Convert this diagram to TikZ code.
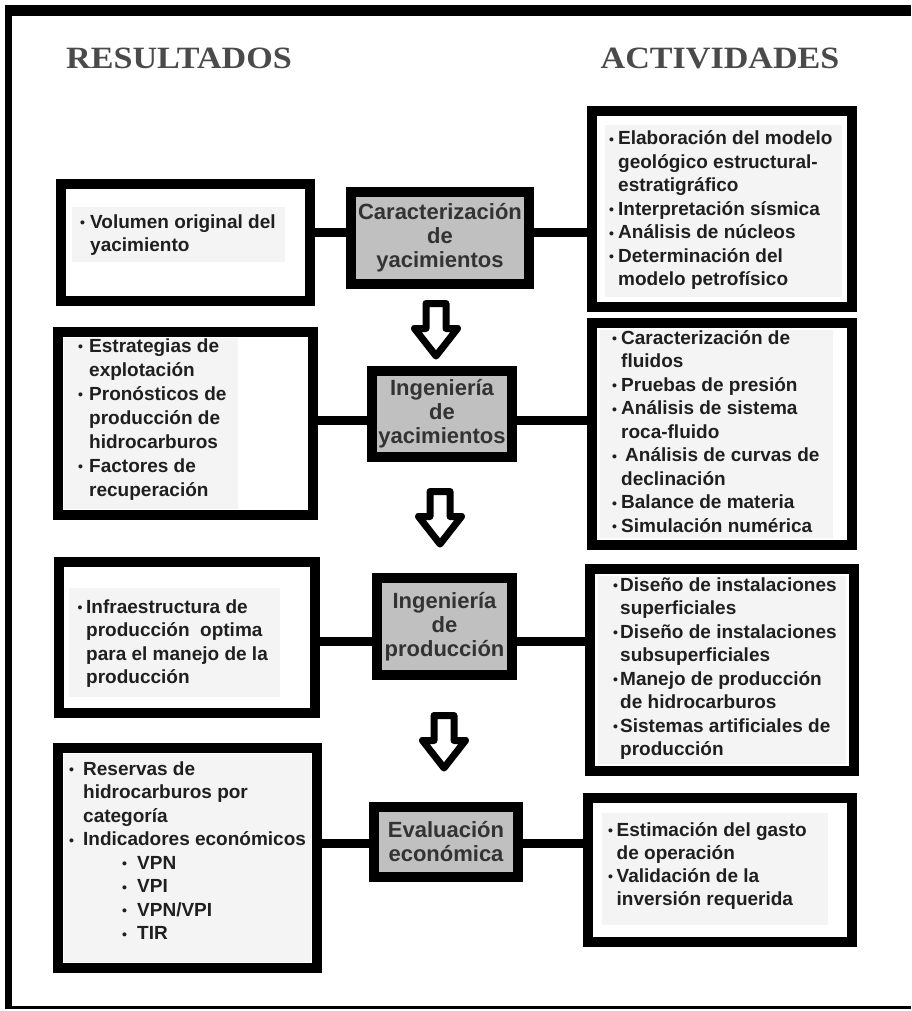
\documentclass[tikz,border=0pt]{standalone}
\usepackage{fontspec}
\setmainfont{Liberation Sans}
\newfontfamily\headfont{Liberation Serif}
\definecolor{cgray}{HTML}{C0C0C0}
\definecolor{tbg}{HTML}{F4F4F4}
\definecolor{headc}{HTML}{4A4A4A}
\newcommand\bul{\raisebox{0.5pt}{\fontsize{14}{14}\selectfont\textbullet}}
\newcommand\bi[1]{\makebox[#1][l]{\bul}}
\begin{document}
\begin{tikzpicture}[x=1pt,y=-1pt,
  box/.style 2 args={draw=black, line width=10pt, fill=white, inner sep=0pt, minimum width=#1, minimum height=#2},
  cbox/.style 2 args={box={#1}{#2}, fill=cgray, text=black!80, font=\fontsize{22}{24}\selectfont\bfseries, align=center},
  conn/.style={line width=9pt},
  txt/.style={anchor=base west, inner sep=0pt, text=black!88, font=\fontsize{19}{23.5}\selectfont\bfseries},
  head/.style={text=headc, font=\headfont\fontsize{31}{31}\selectfont\bfseries, anchor=base},
  tbgs/.style={fill=tbg},
  hollowarrow/.pic={\draw[line width=7pt, line join=round, fill=white]
     (-10,3.5) -- (10,3.5) -- (10,28.5) -- (21.5,28.5) -- (0,56) -- (-21.5,28.5) -- (-10,28.5) -- cycle;}
]
\useasboundingbox (0,0) rectangle (911,1011);
% outer frame
\fill[black] (5,5) rectangle (911,16);
\fill[black] (5,5) rectangle (12,1009);
\fill[black] (5,1006) rectangle (911,1009);

% headings
\node[head] (h1) at (179,69) {\scalebox{1.1}[1]{RESULTADOS}};
\node[head] (h2) at (720,69) {\scalebox{1.1}[1]{ACTIVIDADES}};

% boxes
\node[box={249pt}{117pt}] (L1) at (185.5,242.5) {};
\node[cbox={178pt}{92pt}] (C1) at (440,238) {Caracterización\\de\\yacimientos};
\node[box={260pt}{196pt}] (R1) at (722,209) {};

\node[box={255pt}{183pt}] (L2) at (185.5,423.5) {};
\node[cbox={140pt}{86pt}] (C2) at (442,414) {Ingeniería\\de\\yacimientos};
\node[box={260pt}{222pt}] (R2) at (722,434) {};

\node[box={256pt}{151pt}] (L3) at (187,637.5) {};
\node[cbox={135pt}{97pt}] (C3) at (444.5,626.5) {Ingeniería\\de\\producción};
\node[box={264pt}{202pt}] (R3) at (722,670) {};

\node[box={259pt}{220pt}] (L4) at (187.5,858) {};
\node[cbox={144pt}{70pt}] (C4) at (446,842) {Evaluación\\económica};
\node[box={264pt}{144pt}] (R4) at (720,870) {};

% connectors
\coordinate (r1) at (0,232);
\coordinate (r2) at (0,420);
\coordinate (r3) at (0,641);
\coordinate (r4) at (0,843);
\draw[conn] (L1.east |- r1) -- (C1.west |- r1);
\draw[conn] (C1.east |- r1) -- (R1.west |- r1);
\draw[conn] (L2.east |- r2) -- (C2.west |- r2);
\draw[conn] (C2.east |- r2) -- (R2.west |- r2);
\draw[conn] (L3.east |- r3) -- (C3.west |- r3);
\draw[conn] (C3.east |- r3) -- (R3.west |- r3);
\draw[conn] (L4.east |- r4) -- (C4.west |- r4);
\draw[conn] (C4.east |- r4) -- (R4.west |- r4);

% arrows
\pic at (436,300) {hollowarrow};
\pic at (440,488) {hollowarrow};
\pic at (444,712) {hollowarrow};

% light text backgrounds
\fill[tbgs] (72,207) rectangle (285,262);
\fill[tbgs] (605,125) rectangle (842,297);
\fill[tbgs] (64,338) rectangle (238,509);
\fill[tbgs] (600,330) rectangle (833,538);
\fill[tbgs] (69,588) rectangle (280,697);
\fill[tbgs] (598,576) rectangle (846,764);
\fill[tbgs] (64,754) rectangle (311,962);
\fill[tbgs] (602,813) rectangle (828,925);

% texts
\node[txt] (L1t) at (80,228) {\begin{tabular}[t]{@{}l@{}l@{}}
\bi{10pt} & Volumen original del\\
 & yacimiento
\end{tabular}};

\node[txt] (R1t) at (609,145) {\begin{tabular}[t]{@{}l@{}l@{}}
\bi{9pt} & Elaboración del modelo\\
 & geológico estructural-\\
 & estratigráfico\\
\bi{9pt} & Interpretación sísmica\\
\bi{9pt} & Análisis de núcleos\\
\bi{9pt} & Determinación del\\
 & modelo petrofísico
\end{tabular}};

\node[txt, font=\fontsize{19}{24}\selectfont\bfseries] (L2t) at (78,352) {\begin{tabular}[t]{@{}l@{}l@{}}
\bi{11pt} & Estrategias de\\
 & explotación\\
\bi{11pt} & Pronósticos de\\
 & producción de\\
 & hidrocarburos\\
\bi{11pt} & Factores de\\
 & recuperación
\end{tabular}};

\node[txt] (R2t) at (612,344) {\begin{tabular}[t]{@{}l@{}l@{}}
\bi{9pt} & Caracterización de\\
 & fluidos\\
\bi{9pt} & Pruebas de presión\\
\bi{9pt} & Análisis de sistema\\
 & roca-fluido\\
\bi{9pt} & \hspace{4pt}Análisis de curvas de\\
 & declinación\\
\bi{9pt} & Balance de materia\\
\bi{9pt} & Simulación numérica
\end{tabular}};

\node[txt] (L3t) at (77.5,613) {\begin{tabular}[t]{@{}l@{}l@{}}
\bi{8.5pt} & Infraestructura de\\
 & producción \ optima\\
 & para el manejo de la\\
 & producción
\end{tabular}};

\node[txt] (R3t) at (613,591) {\begin{tabular}[t]{@{}l@{}l@{}}
\bi{7pt} & Diseño de instalaciones\\
 & superficiales\\
\bi{7pt} & Diseño de instalaciones\\
 & subsuperficiales\\
\bi{7pt} & Manejo de producción\\
 & de hidrocarburos\\
\bi{7pt} & Sistemas artificiales de\\
 & producción
\end{tabular}};

\node[txt] (L4t) at (69,775) {\begin{tabular}[t]{@{}l@{}l@{}}
\bi{14pt} & Reservas de\\
 & hidrocarburos por\\
 & categoría\\
\bi{14pt} & Indicadores económicos\\
 & \hspace{39pt}\bi{15pt}VPN\\
 & \hspace{39pt}\bi{15pt}VPI\\
 & \hspace{39pt}\bi{15pt}VPN/VPI\\
 & \hspace{39pt}\bi{15pt}TIR
\end{tabular}};

\node[txt, font=\fontsize{19}{23}\selectfont\bfseries] (R4t) at (608,836) {\begin{tabular}[t]{@{}l@{}l@{}}
\bi{8.5pt} & Estimación del gasto\\
 & de operación\\
\bi{8.5pt} & Validación de la\\
 & inversión requerida
\end{tabular}};
\end{tikzpicture}
\end{document}
